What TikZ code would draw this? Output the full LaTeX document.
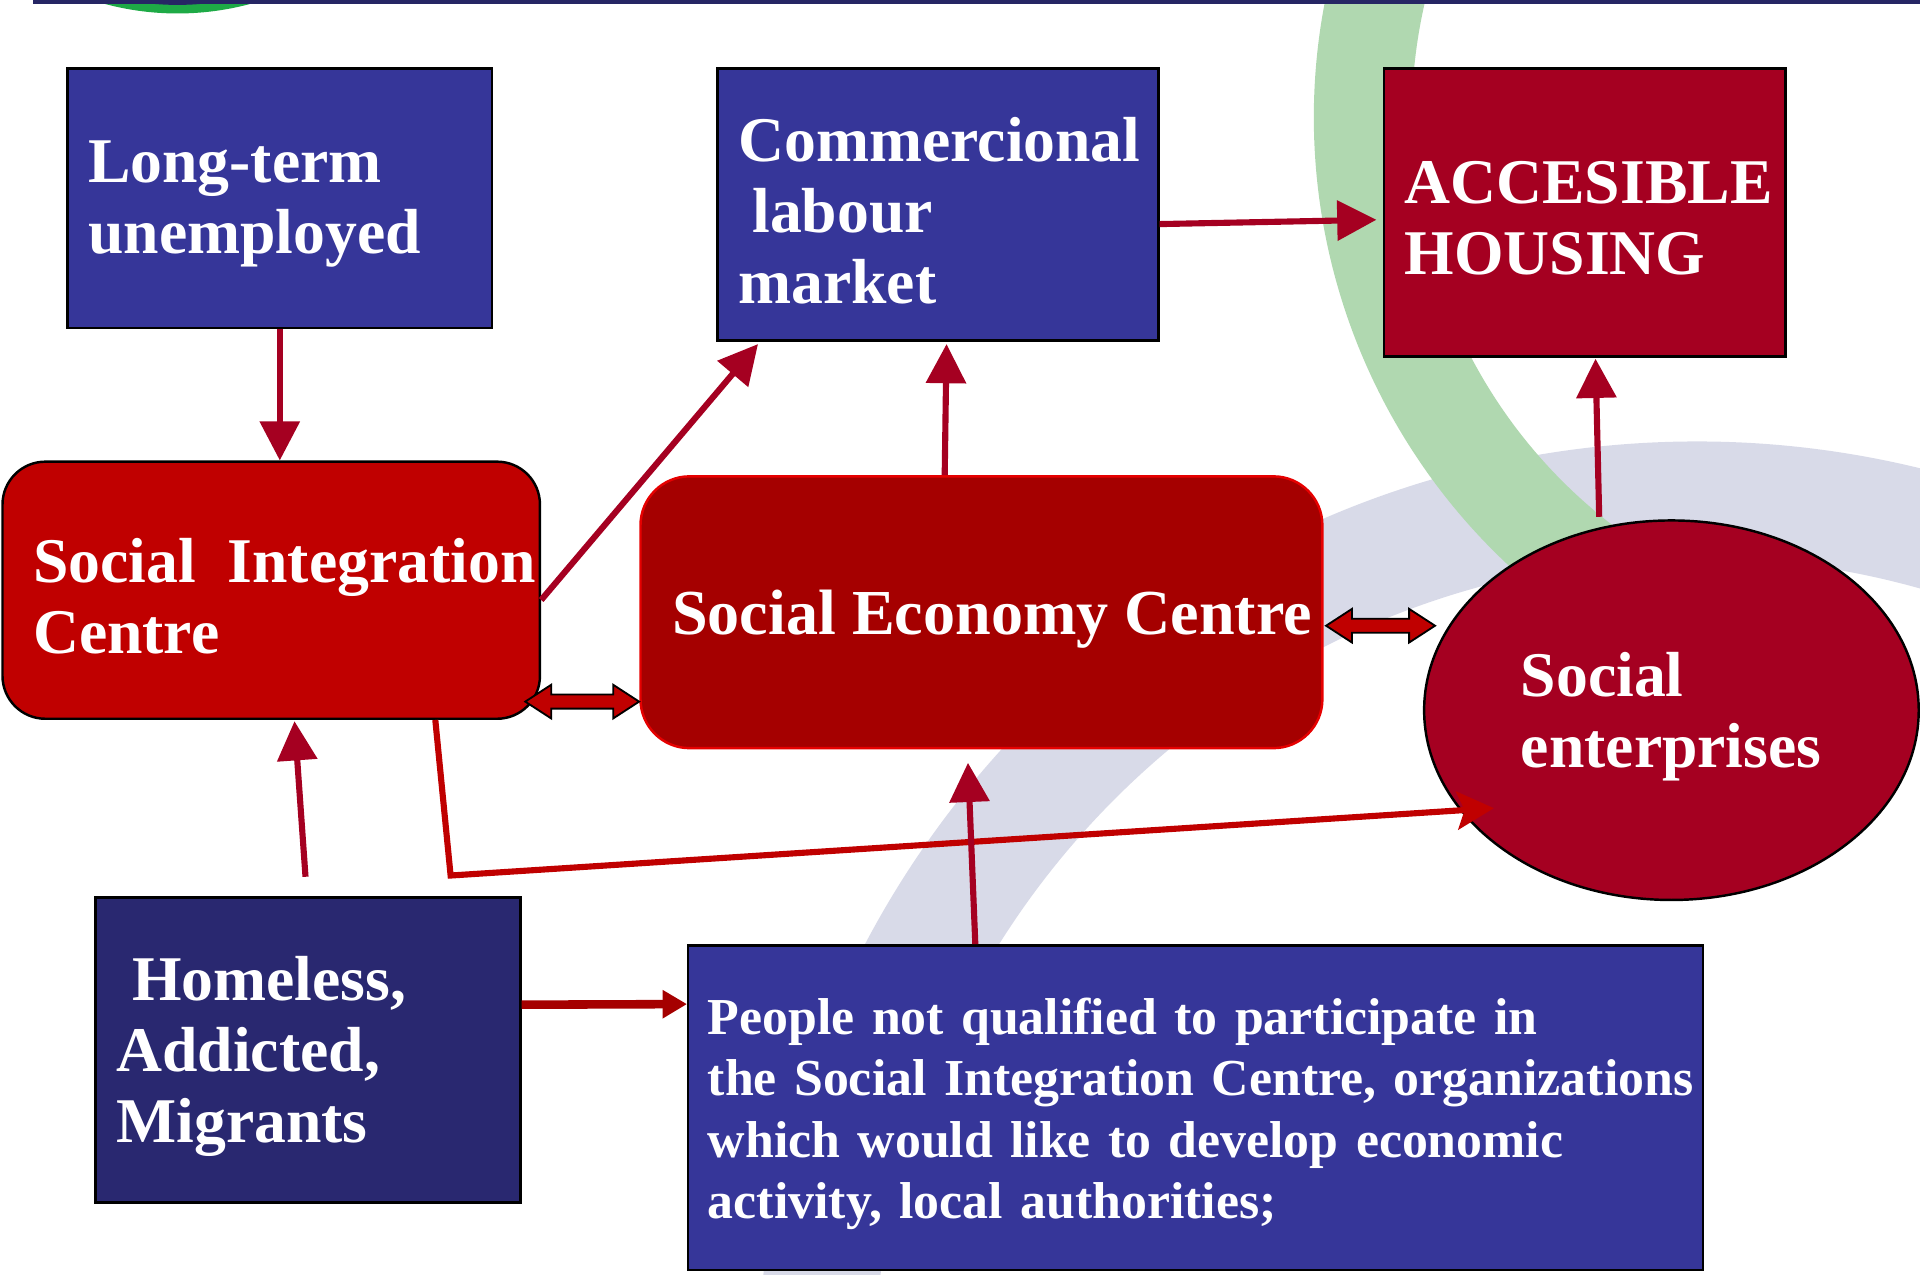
\documentclass[tikz,border=0pt]{standalone}
\usepackage{fontspec}
\setmainfont{Liberation Serif}
\usepackage{tikz}
\usetikzlibrary{arrows.meta}
\usetikzlibrary{shapes.geometric}
\usetikzlibrary{shapes.arrows}
\usetikzlibrary{calc}

\definecolor{boxblue}{RGB}{54,54,153}
\definecolor{boxnavy}{RGB}{41,40,112}
\definecolor{crimson}{RGB}{165,0,33}
\definecolor{brightred}{RGB}{192,0,0}
\definecolor{darkred}{RGB}{165,0,0}
\definecolor{ringgreen}{RGB}{176,216,176}
\definecolor{ringgrey}{RGB}{216,218,232}
\definecolor{barnavy}{RGB}{38,38,100}
\definecolor{logogreen}{RGB}{30,170,70}

\tikzset{
  bigtext/.style={text=white, font=\bfseries\fontsize{29.6}{33}\selectfont, align=left},
  smalltext/.style={text=white, font=\bfseries\fontsize{24.1}{28.5}\selectfont, align=left},
  textdown/.style={execute at end node={\par\vspace*{-0.2cm}}},
  box/.style={rectangle, draw=black, line width=0.04cm, inner ysep=0pt},
  arr/.style={color=crimson, line width=0.1cm, -{Triangle[length=0.64cm,width=0.64cm]}},
  longarr/.style={color=brightred, line width=0.1cm, -{Stealth[length=0.6cm,width=0.62cm,inset=0.12cm]}},
  redarr/.style={color=darkred, line width=0.14cm, -{Triangle[length=0.4cm,width=0.44cm]}},
  dblarr/.style={double arrow, draw=black, line width=0.03cm, fill=brightred, inner sep=0pt,
    text height=0.2cm, text depth=0cm, minimum width=0.52cm,
    double arrow head extend=0.16cm, double arrow tip angle=66}
}

\begin{document}
\begin{tikzpicture}[x=0.02cm, y=-0.02cm]
\useasboundingbox (0,0) rectangle (1568,1041);
\begin{scope}
  \clip (0,0) rectangle (1568,1041);
  \draw[ringgrey, line width=1.9cm] (1386,1128) ++(180:720) arc[start angle=180, end angle=300, radius=720];
  \draw[ringgreen, line width=1.6cm] (1573,96) ++(200:460) arc[start angle=200, end angle=118, radius=460];
  \fill[logogreen] (145,-217) circle (228);
  \fill[barnavy] (145,-217) circle (221);
  \fill[barnavy] (27,0) rectangle (1568,3);
\end{scope}

\node[box, textdown, fill=boxblue, bigtext, minimum width=6.94cm, minimum height=4.24cm,
  text width=6.26cm, inner xsep=0.34cm] (ltu) at (228.5,162) {Long-term\\unemployed};
\node[box, textdown, fill=boxblue, bigtext, minimum width=7.2cm, minimum height=4.44cm,
  text width=6.52cm, inner xsep=0.34cm] (clm) at (766,167)
  {\mbox{Commercional}\\\hspace*{0.22em}labour\\market};
\node[box, textdown, fill=crimson, bigtext, minimum width=6.56cm, minimum height=4.7cm,
  text width=5.88cm, inner xsep=0.34cm] (ah) at (1294,173.5) {\mbox{ACCESIBLE}\\HOUSING};
\node[box, textdown, fill=brightred, rounded corners=0.7cm, bigtext, minimum width=8.78cm, minimum height=4.2cm,
  text width=7.78cm, inner xsep=0.5cm] (sic) at (221.5,482) {\mbox{Social\hspace{0.5em}Integration}\\Centre};
\node[box, draw={rgb,255:red,230;green,0;blue,0}, fill=darkred, rounded corners=0.8cm, text=white,
  font=\bfseries\fontsize{29.8}{33}\selectfont, text height=0.72cm, text depth=0cm,
  minimum width=11.14cm, minimum height=4.44cm] (sec) at (801.5,500)
  {\hspace*{0.35cm}Social Economy Centre};
\node[ellipse, textdown, draw=black, line width=0.04cm, fill=crimson, bigtext, minimum width=8.08cm,
  minimum height=6.2cm, text width=4.92cm, inner sep=0pt] (se) at (1365,580) {Social\\enterprises};
\node[box, textdown, fill=boxnavy, bigtext, minimum width=6.94cm, minimum height=4.98cm,
  text width=6.26cm, inner xsep=0.34cm] (ham) at (251.5,857.5)
  {\hspace*{0.25em}Homeless,\\Addicted,\\Migrants};
\node[box, textdown, fill=boxblue, smalltext, minimum width=16.58cm, minimum height=5.3cm,
  text width=15.94cm, inner xsep=0.32cm] (pnq) at (976.5,904.5)
  {\mbox{People not qualified to participate in}\\
   \mbox{the Social Integration Centre, organizations}\\
   \mbox{which would like to develop economic}\\
   \mbox{activity, local authorities;}};

\draw[arr] (ltu.south) -- (ltu.south |- sic.north);
\draw[arr] ($(clm.east)+(0,16)$) -- ($(ah.west)+(-5,6)$);
\draw[arr] ($(sic.east)+(0,8)$) -- ($(clm.south west)+(34,2)$);
\draw[arr] ($(sec.north)+(-30,0)$) -- ($(clm.south)+(7,2)$);
\draw[arr] ($(se.north)+(-59,-2)$) -- ($(ah.south)+(9,1)$);
\coordinate (hamtop) at ($(ham.north)+(-2,-16)$);
\draw[arr] (hamtop) -- ($(sic.south)+(19,1)$);
\coordinate (bend) at (368,715);
\draw[longarr] ($(sic.south)+(134,0)$) -- (bend) -- ($(se.center)+(-145,80)$);
\draw[redarr] ($(ham.east)+(0,-37)$) -- ($(pnq.west)+(0,-84.5)$);
\draw[arr] ($(pnq.north)+(-180,0)$) -- ($(sec.south)+(-11,11)$);

\node[dblarr, minimum height=1.86cm] (dl) at ($(sic.south east)+(33.5,-15)$) {};
\node[dblarr, minimum height=1.78cm] (dr) at ($(sec.east)+(46.5,11)$) {};
\end{tikzpicture}
\end{document}
